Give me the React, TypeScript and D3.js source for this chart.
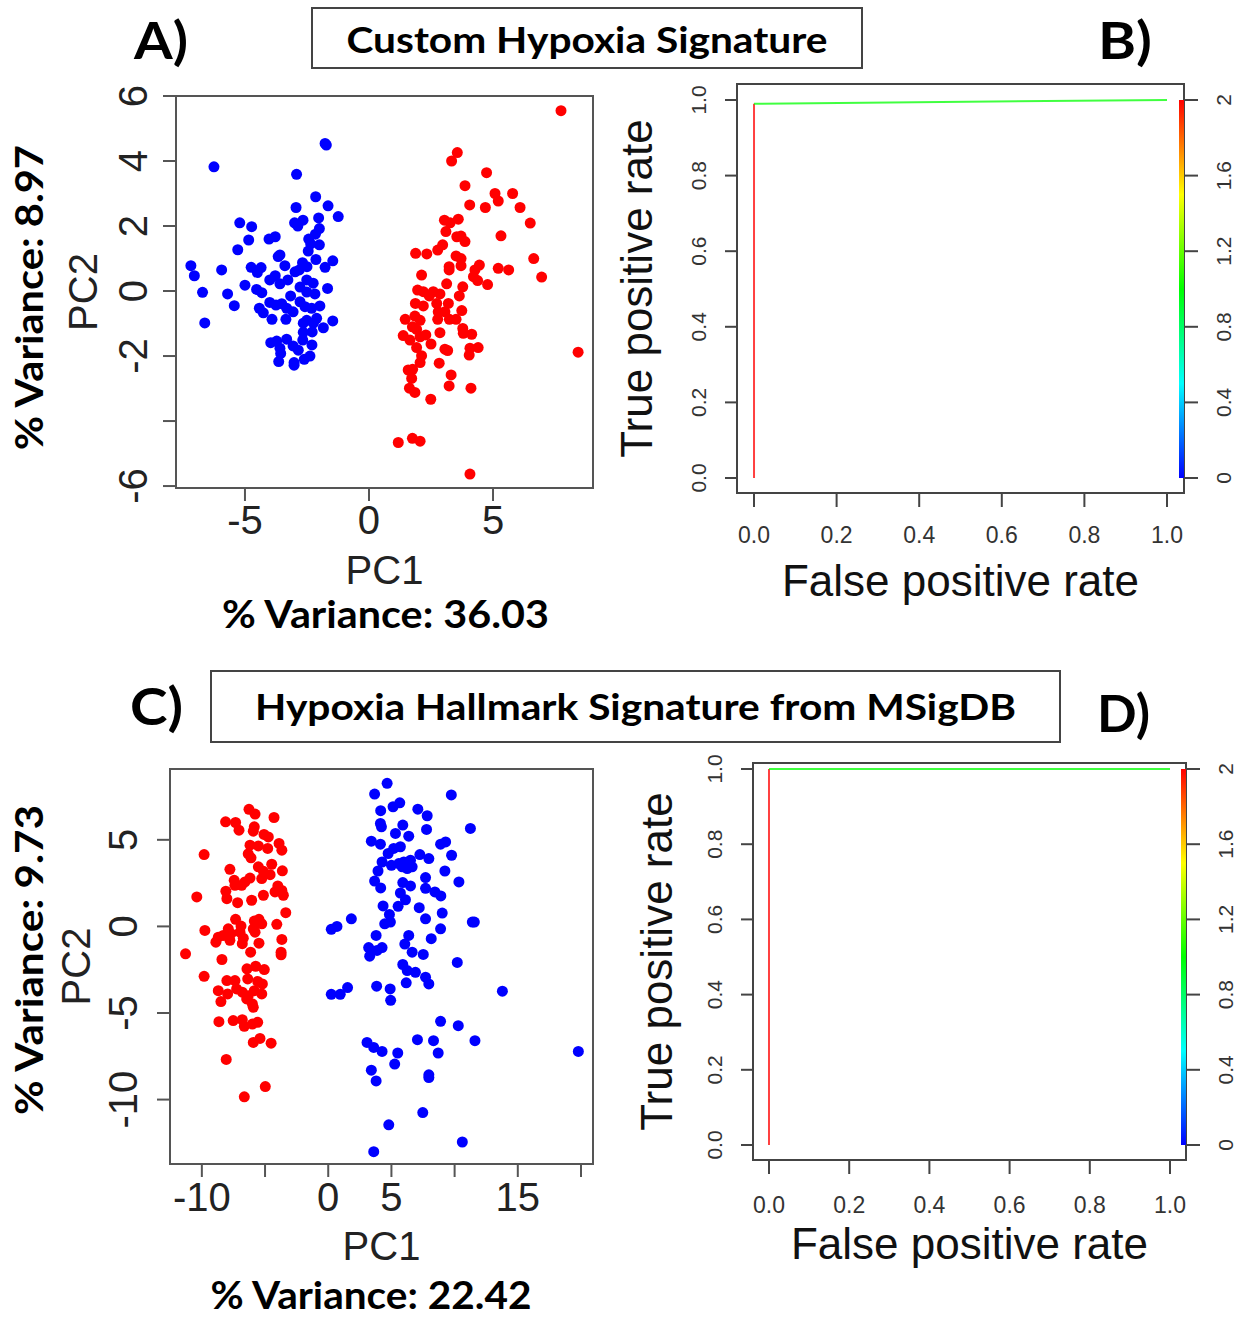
import * as d3 from 'd3';

// PCA scores, custom hypoxia signature (panel A)
const blueA: [number, number][] = [
  [-1.77, 4.54], [-1.72, 4.49], [-6.25, 3.82], [-2.92, 3.59], [-2.15, 2.9], [-1.65, 2.62], [-2.94, 2.57],
  [-1.24, 2.29], [-2.03, 2.25], [-2.66, 2.18], [-3.0, 2.1], [-2.87, 2.0], [-5.21, 2.1], [-4.73, 1.98],
  [-2.0, 1.92], [-2.16, 1.75], [-4.03, 1.6], [-3.78, 1.67], [-4.85, 1.57], [-2.43, 1.6], [-2.0, 1.42],
  [-2.35, 1.45], [-5.29, 1.27], [-2.45, 1.23], [-3.59, 1.11], [-3.66, 1.06], [-2.14, 0.97], [-1.46, 0.93],
  [-1.77, 0.73], [-3.39, 0.78], [-2.68, 0.87], [-2.5, 0.75], [-7.18, 0.78], [-7.04, 0.47], [-5.94, 0.65],
  [-4.75, 0.73], [-4.35, 0.72], [-4.5, 0.57], [-2.98, 0.59], [-2.81, 0.65], [-2.51, 0.34], [-2.25, 0.24],
  [-3.27, 0.34], [-3.59, 0.22], [-4.0, 0.34], [-3.78, 0.47], [-5.0, 0.18], [-6.71, -0.04], [-5.7, -0.09],
  [-5.43, -0.45], [-6.62, -0.98], [-4.53, 0.05], [-4.32, -0.05], [-1.67, 0.08], [-2.78, 0.12], [-2.51, -0.03],
  [-2.18, -0.09], [-3.16, -0.15], [-4.0, -0.35], [-3.75, -0.43], [-3.52, -0.39], [-3.32, -0.53], [-2.78, -0.33],
  [-2.58, -0.48], [-2.31, -0.53], [-1.98, -0.46], [-4.42, -0.53], [-4.26, -0.67], [-3.91, -0.87], [-3.35, -0.87],
  [-3.06, -0.64], [-2.51, -0.9], [-2.11, -0.84], [-2.65, -0.99], [-2.24, -0.99], [-1.46, -0.92], [-1.84, -1.13],
  [-2.65, -1.27], [-2.29, -1.26], [-3.32, -1.48], [-3.96, -1.59], [-3.72, -1.54], [-2.67, -1.51], [-2.3, -1.66],
  [-3.06, -1.69], [-2.85, -1.82], [-3.59, -1.76], [-3.56, -1.92], [-2.38, -2.0], [-2.61, -2.1], [-3.64, -2.17],
  [-3.02, -2.2], [-3.02, -2.28],
];
const redA: [number, number][] = [
  [7.74, 5.55], [3.56, 4.26], [3.33, 4.0], [4.74, 3.64], [3.87, 3.24], [5.08, 3.0], [5.21, 2.77], [5.79, 3.0],
  [4.06, 2.65], [4.69, 2.57], [6.09, 2.57], [6.5, 2.09], [3.04, 2.18], [3.27, 2.1], [3.6, 2.21], [3.1, 1.83],
  [3.54, 1.67], [3.71, 1.69], [3.87, 1.52], [5.32, 1.7], [2.97, 1.42], [2.77, 1.26], [1.88, 1.16], [2.33, 1.14],
  [3.51, 1.08], [3.71, 1.0], [3.71, 0.78], [6.64, 1.0], [3.23, 0.75], [3.23, 0.65], [4.27, 0.65], [4.45, 0.8],
  [4.21, 0.44], [4.38, 0.32], [5.21, 0.7], [5.63, 0.65], [6.96, 0.43], [4.78, 0.2], [2.12, 0.49], [3.13, 0.22],
  [3.78, 0.13], [1.96, 0.03], [2.19, -0.02], [2.59, -0.02], [2.86, -0.09], [2.43, -0.15], [3.64, -0.15],
  [1.87, -0.38], [2.19, -0.46], [2.73, -0.38], [3.2, -0.38], [2.79, -0.64], [3.06, -0.64], [3.74, -0.6],
  [1.46, -0.87], [1.85, -0.77], [2.06, -0.9], [2.77, -0.87], [3.24, -0.87], [3.51, -0.87], [1.75, -1.1],
  [1.92, -1.18], [3.78, -1.15], [2.86, -1.28], [1.38, -1.37], [1.65, -1.51], [2.06, -1.41], [2.29, -1.35],
  [3.8, -1.3], [4.14, -1.33], [1.92, -1.74], [2.5, -1.63], [3.06, -1.79], [3.17, -1.83], [4.07, -1.76],
  [4.4, -1.74], [2.12, -1.99], [4.04, -1.97], [2.06, -2.2], [2.83, -2.22], [1.58, -2.43], [1.76, -2.41],
  [1.72, -2.69], [3.31, -2.58], [1.63, -2.99], [1.85, -3.12], [3.23, -2.92], [4.11, -2.99], [2.49, -3.33],
  [8.43, -1.88], [1.18, -4.66], [1.75, -4.53], [2.06, -4.62], [4.07, -5.63],
];

// PCA scores, MSigDB hypoxia hallmark (panel C)
const redC: [number, number][] = [
  [-6.27, 6.76], [-5.79, 6.49], [-8.12, 6.04], [-7.33, 6.0], [-7.06, 5.56], [-4.29, 6.29], [-5.85, 5.75],
  [-5.93, 5.5], [-5.08, 5.31], [-4.74, 5.17], [-3.89, 4.79], [-3.67, 4.4], [-6.19, 4.69], [-5.53, 4.65],
  [-4.79, 4.5], [-9.82, 4.15], [-6.33, 4.19], [-6.11, 3.96], [-4.47, 3.59], [-7.78, 3.3], [-5.53, 3.44],
  [-5.13, 3.18], [-4.6, 2.99], [-5.26, 2.76], [-3.63, 3.21], [-7.44, 2.66], [-6.59, 2.57], [-6.19, 2.79],
  [-6.85, 2.37], [-8.1, 2.03], [-7.38, 2.37], [-3.99, 2.34], [-3.67, 2.08], [-4.21, 1.99], [-3.55, 1.8],
  [-5.13, 1.8], [-10.4, 1.7], [-8.02, 1.6], [-7.17, 1.37], [-6.06, 1.51], [-3.36, 0.79], [-7.33, 0.41],
  [-5.48, 0.41], [-5.85, 0.31], [-5.26, 0.15], [-4.07, 0.12], [-9.76, -0.23], [-7.91, -0.14], [-6.9, 0.02],
  [-5.93, -0.14], [-5.79, -0.33], [-8.7, -0.62], [-8.31, -0.52], [-7.7, -0.42], [-6.98, -0.33], [-6.72, -0.68],
  [-8.89, -0.91], [-7.78, -0.8], [-6.8, -1.0], [-5.48, -0.97], [-3.67, -0.75], [-3.73, -1.49], [-3.73, -1.64],
  [-6.14, -1.49], [-11.29, -1.58], [-8.41, -1.91], [-9.82, -2.88], [-6.43, -2.45], [-5.74, -2.3], [-5.06, -2.49],
  [-8.02, -3.13], [-7.38, -3.13], [-6.37, -3.03], [-5.58, -3.18], [-5.21, -3.32], [-8.7, -3.71], [-7.96, -3.9],
  [-7.25, -3.61], [-6.8, -3.8], [-6.33, -4.0], [-5.85, -3.71], [-5.26, -3.9], [-8.49, -4.34], [-6.45, -4.19],
  [-6.0, -4.48], [-5.93, -4.67], [-8.65, -5.5], [-7.52, -5.44], [-6.8, -5.39], [-6.64, -5.77], [-6.0, -5.64],
  [-5.58, -5.54], [-5.93, -6.7], [-5.4, -6.47], [-4.52, -6.74], [-8.07, -7.68], [-4.98, -9.25], [-6.64, -9.84],
];
const blueC: [number, number][] = [
  [4.66, 8.26], [3.67, 7.64], [9.74, 7.59], [5.13, 6.91], [5.66, 7.14], [4.15, 6.68], [7.09, 6.77], [7.83, 6.39],
  [4.13, 5.95], [4.21, 5.75], [5.9, 5.85], [7.78, 5.6], [11.25, 5.66], [5.32, 5.37], [6.37, 5.21], [3.41, 4.92],
  [4.13, 4.75], [8.89, 4.75], [9.29, 4.88], [5.18, 4.5], [5.71, 4.6], [4.74, 4.21], [9.76, 4.11], [7.25, 4.15],
  [7.96, 3.92], [4.26, 3.72], [5.0, 3.53], [5.58, 3.63], [5.98, 3.72], [6.51, 3.82], [6.64, 3.44], [6.25, 3.34],
  [5.85, 3.44], [3.94, 3.2], [9.23, 3.2], [7.7, 2.82], [3.67, 2.62], [10.34, 2.57], [5.9, 2.53], [6.51, 2.34],
  [4.15, 2.22], [7.7, 2.2], [5.71, 1.93], [6.11, 1.54], [8.44, 1.99], [8.91, 1.76], [4.34, 1.18], [5.53, 1.16],
  [7.2, 1.08], [9.02, 0.77], [1.83, 0.44], [7.7, 0.44], [4.84, 0.69], [4.47, 0.15], [4.92, 0.25], [11.4, 0.25],
  [11.56, 0.25], [0.24, -0.17], [0.69, 0.0], [8.89, -0.14], [3.79, -0.52], [6.37, -0.52], [8.15, -0.71],
  [6.06, -1.02], [3.2, -1.22], [4.26, -1.22], [3.86, -1.39], [3.28, -1.72], [6.64, -1.49], [7.52, -1.62],
  [10.21, -2.08], [5.9, -2.2], [6.25, -2.55], [6.9, -2.65], [7.7, -2.93], [7.96, -3.32], [6.17, -3.26],
  [1.53, -3.53], [0.95, -3.92], [0.24, -3.92], [3.83, -3.45], [4.9, -3.61], [4.94, -4.27], [13.78, -3.74],
  [8.89, -5.48], [10.29, -5.73], [3.07, -6.7], [3.6, -6.99], [4.26, -7.22], [5.5, -7.31], [7.06, -6.54],
  [8.33, -6.6], [8.7, -7.31], [11.61, -6.6], [19.79, -7.22], [5.26, -7.95], [3.41, -8.3], [3.79, -8.92],
  [7.96, -8.57], [7.96, -8.73], [7.48, -10.75], [4.79, -11.46], [10.61, -12.45], [3.6, -13.01],
];

// axis ticks
const ticksAX = [-5, 0, 5];
const ticksAY = [-6, -4, -2, 0, 2, 4, 6];
const labelsAY = [-6, -2, 0, 2, 4, 6];
const ticksCX = [-10, -5, 0, 5, 10, 15, 20];
const labelsCX = [-10, 0, 5, 15];
const ticksCY = [-10, -5, 0, 5];
const rocTicks = [0, 0.2, 0.4, 0.6, 0.8, 1.0];
const cutoffTicks = [0, 0.4, 0.8, 1.2, 1.6, 2];

// ROC curves (fpr, tpr) with the cutoff of each segment
const fprB = [0, 0, 1];
const tprB = [0, 0.99, 1];
const cutB = [2, 1];
const fprD = [0, 0, 1];
const tprD = [0, 1, 1];
const cutD = [2, 1];

const SANS = "'Liberation Sans', Arial, sans-serif";
const BOLD = "Lato, 'Open Sans', sans-serif";
const rainbow = (c: number) => d3.hsl(240 * (1 - c / 2), 1, 0.5).formatHex();

type Box = { x0: number; x1: number; y0: number; y1: number };

function Scatter(p: {
  box: Box; xDom: [number, number]; yDom: [number, number];
  blue: [number, number][]; red: [number, number][];
  xTicks: number[]; xLabels: number[]; yTicks: number[]; yLabels: number[];
  xLabBase: number; yLabBase: number; pcxBase: number; pcyBase: number;
  varX: string; varXBase: number; varXLen: number; varXCx: number;
  varY: string; varYBase: number; varYLen: number; varYCy: number;
}) {
  const { box } = p;
  const x = d3.scaleLinear().domain(p.xDom).range([box.x0, box.x1]);
  const y = d3.scaleLinear().domain(p.yDom).range([box.y1, box.y0]);
  const cx = (box.x0 + box.x1) / 2;
  const cy = (box.y0 + box.y1) / 2;
  return (
    <g>
      <rect x={box.x0} y={box.y0} width={box.x1 - box.x0} height={box.y1 - box.y0} fill="none" stroke="#555" strokeWidth={2} />
      {p.xTicks.map(t => (
        <line key={'xt' + t} x1={x(t)} x2={x(t)} y1={box.y1} y2={box.y1 + 13} stroke="#555" strokeWidth={2} />
      ))}
      {p.xLabels.map(t => (
        <text key={'xl' + t} x={x(t)} y={p.xLabBase} textAnchor="middle" fontFamily={SANS} fontSize={40} fill="#222">{t}</text>
      ))}
      {p.yTicks.map(t => (
        <line key={'yt' + t} x1={box.x0 - 13} x2={box.x0} y1={y(t)} y2={y(t)} stroke="#555" strokeWidth={2} />
      ))}
      {p.yLabels.map(t => (
        <text key={'yl' + t} transform={`translate(${p.yLabBase},${y(t)}) rotate(-90)`} textAnchor="middle" fontFamily={SANS} fontSize={40} fill="#222">{t}</text>
      ))}
      {p.blue.map((d, i) => (
        <circle key={'b' + i} cx={x(d[0])} cy={y(d[1])} r={5.5} fill="#0000ff" />
      ))}
      {p.red.map((d, i) => (
        <circle key={'r' + i} cx={x(d[0])} cy={y(d[1])} r={5.5} fill="#ff0000" />
      ))}
      <text x={cx} y={p.pcxBase} textAnchor="middle" fontFamily={SANS} fontSize={40} fill="#222">PC1</text>
      <text transform={`translate(${p.pcyBase},${cy}) rotate(-90)`} textAnchor="middle" fontFamily={SANS} fontSize={40} fill="#222">PC2</text>
      <text x={p.varXCx} y={p.varXBase} textAnchor="middle" fontFamily={BOLD} fontWeight={700} fontSize={38}
        textLength={p.varXLen} lengthAdjust="spacingAndGlyphs" fill="#000">{p.varX}</text>
      <text transform={`translate(${p.varYBase},${p.varYCy}) rotate(-90)`} textAnchor="middle" fontFamily={BOLD} fontWeight={700} fontSize={38}
        textLength={p.varYLen} lengthAdjust="spacingAndGlyphs" fill="#000">{p.varY}</text>
    </g>
  );
}

function Roc(p: {
  box: Box; xDom: [number, number]; yDom: [number, number];
  fpr: number[]; tpr: number[]; cut: number[];
  barX: number; barY: [number, number];
  xLabBase: number; yLabBase: number; barLabBase: number;
  xTitleBase: number; yTitleBase: number;
}) {
  const { box } = p;
  const x = d3.scaleLinear().domain(p.xDom).range([box.x0, box.x1]);
  const y = d3.scaleLinear().domain(p.yDom).range([box.y1, box.y0]);
  const c = d3.scaleLinear().domain([0, 2]).range(p.barY);
  const gid = 'grad' + Math.round(box.y0);
  const stops = d3.range(0, 2.0001, 0.1);
  return (
    <g>
      <defs>
        <linearGradient id={gid} x1="0" y1="1" x2="0" y2="0">
          {stops.map(s => (
            <stop key={s} offset={`${(s / 2) * 100}%`} stopColor={rainbow(s)} />
          ))}
        </linearGradient>
      </defs>
      <rect x={box.x0} y={box.y0} width={box.x1 - box.x0} height={box.y1 - box.y0} fill="none" stroke="#444" strokeWidth={2} />
      {rocTicks.map(t => (
        <g key={'t' + t}>
          <line x1={x(t)} x2={x(t)} y1={box.y1} y2={box.y1 + 14} stroke="#444" strokeWidth={2} />
          <text x={x(t)} y={p.xLabBase} textAnchor="middle" fontFamily={SANS} fontSize={23} fill="#333">{t.toFixed(1)}</text>
          <line x1={box.x0 - 12} x2={box.x0} y1={y(t)} y2={y(t)} stroke="#444" strokeWidth={2} />
          <text transform={`translate(${p.yLabBase},${y(t)}) rotate(-90)`} textAnchor="middle" fontFamily={SANS} fontSize={21} fill="#333">{t.toFixed(1)}</text>
        </g>
      ))}
      {p.cut.map((cv, i) => (
        <line key={'s' + i} x1={x(p.fpr[i])} y1={y(p.tpr[i])} x2={x(p.fpr[i + 1])} y2={y(p.tpr[i + 1])}
          stroke={rainbow(cv)} strokeWidth={2} strokeOpacity={0.75} />
      ))}
      <rect x={p.barX - 2.5} y={c(2)} width={5} height={c(0) - c(2)} fill={`url(#${gid})`} />
      {cutoffTicks.map(t => (
        <g key={'c' + t}>
          <line x1={box.x1} x2={box.x1 + 14} y1={c(t)} y2={c(t)} stroke="#444" strokeWidth={2} />
          <text transform={`translate(${p.barLabBase},${c(t)}) rotate(-90)`} textAnchor="middle" fontFamily={SANS} fontSize={21} fill="#333">{t}</text>
        </g>
      ))}
      <text x={(box.x0 + box.x1) / 2} y={p.xTitleBase} textAnchor="middle" fontFamily={SANS} fontSize={44} fill="#111">False positive rate</text>
      <text transform={`translate(${p.yTitleBase},${(box.y0 + box.y1) / 2}) rotate(-90)`} textAnchor="middle" fontFamily={SANS} fontSize={44} fill="#111">True positive rate</text>
    </g>
  );
}

function PanelLabel({ x, y, text, len }: { x: number; y: number; text: string; len: number }) {
  return (
    <text x={x} y={y} fontFamily={BOLD} fontWeight={700} fontSize={52} textLength={len} lengthAdjust="spacingAndGlyphs" fill="#000">{text}</text>
  );
}

function TitleBox({ x, y, w, h, text, base, len }: { x: number; y: number; w: number; h: number; text: string; base: number; len: number }) {
  return (
    <g>
      <rect x={x} y={y} width={w} height={h} fill="#fff" stroke="#444" strokeWidth={2} />
      <text x={x + w / 2} y={base} textAnchor="middle" fontFamily={BOLD} fontWeight={700} fontSize={37}
        textLength={len} lengthAdjust="spacingAndGlyphs" fill="#000">{text}</text>
    </g>
  );
}

export default function App() {
  return (
    <svg width={1248} height={1318} style={{ position: 'absolute', left: 0, top: 0, background: '#fff' }}>
      <rect width={1248} height={1318} fill="#fff" />
      <PanelLabel x={134} y={59} text="A)" len={54} />
      <PanelLabel x={1098} y={59} text="B)" len={54} />
      <PanelLabel x={130} y={725} text="C)" len={53} />
      <PanelLabel x={1097} y={732} text="D)" len={53} />
      <TitleBox x={312} y={8} w={550} h={60} text="Custom Hypoxia Signature" base={53} len={481} />
      <TitleBox x={211} y={671} w={849} h={71} text="Hypoxia Hallmark Signature from MSigDB" base={720} len={761} />

      <Scatter
        box={{ x0: 176, x1: 593, y0: 96, y1: 488 }}
        xDom={[-7.78, 9.03]} yDom={[-6.06, 6.0]}
        blue={blueA} red={redA}
        xTicks={ticksAX} xLabels={ticksAX} yTicks={ticksAY} yLabels={labelsAY}
        xLabBase={534} yLabBase={147} pcxBase={584} pcyBase={97}
        varX="% Variance: 36.03" varXBase={628} varXLen={327} varXCx={385.5}
        varY="% Variance: 8.97" varYBase={43} varYLen={305} varYCy={297.5}
      />
      <Scatter
        box={{ x0: 170, x1: 593, y0: 769, y1: 1164 }}
        xDom={[-12.52, 20.95]} yDom={[-13.72, 9.09]}
        blue={blueC} red={redC}
        xTicks={ticksCX} xLabels={labelsCX} yTicks={ticksCY} yLabels={ticksCY}
        xLabBase={1211} yLabBase={137} pcxBase={1260} pcyBase={90}
        varX="% Variance: 22.42" varXBase={1309} varXLen={321} varXCx={371}
        varY="% Variance: 9.73" varYBase={43} varYLen={310} varYCy={960}
      />
      <Roc
        box={{ x0: 737, x1: 1184, y0: 84, y1: 493 }}
        xDom={[-0.0412, 1.0412]} yDom={[-0.0397, 1.0423]}
        fpr={fprB} tpr={tprB} cut={cutB}
        barX={1181.5} barY={[478, 100]}
        xLabBase={543} yLabBase={706} barLabBase={1231}
        xTitleBase={596} yTitleBase={652}
      />
      <Roc
        box={{ x0: 753, x1: 1186, y0: 763, y1: 1160 }}
        xDom={[-0.0399, 1.0399]} yDom={[-0.0399, 1.016]}
        fpr={fprD} tpr={tprD} cut={cutD}
        barX={1183.5} barY={[1145, 769]}
        xLabBase={1213} yLabBase={722} barLabBase={1233}
        xTitleBase={1259} yTitleBase={672}
      />
    </svg>
  );
}
